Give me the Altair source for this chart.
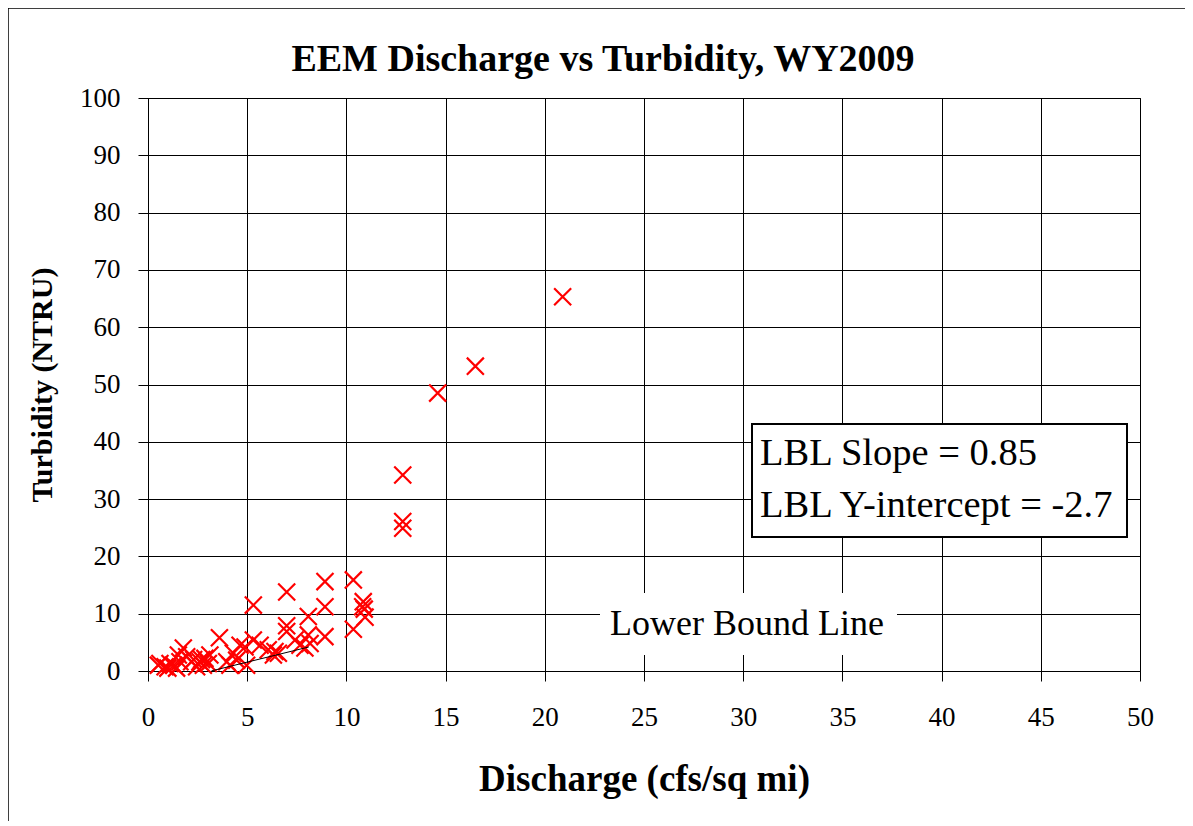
import altair as alt
import pandas as pd

# Data
discharge = [0.52, 0.60, 0.86, 1.00, 1.11, 1.30, 1.44, 1.53, 1.61, 1.78, 1.95, 2.20, 2.30,
             2.45, 2.62, 2.70, 2.79, 2.87, 3.04, 3.12, 3.60, 3.97, 4.13, 4.30, 4.47, 4.64,
             4.89, 4.97, 5.31, 5.31, 5.65, 6.06, 6.32, 6.40, 6.57, 6.99, 6.99, 6.99, 7.41,
             7.66, 7.91, 8.08, 8.08, 8.17, 8.92, 8.92, 8.92, 10.35, 10.35, 10.82, 10.85,
             10.90, 10.94, 12.84, 12.84, 12.84, 14.6, 16.5, 20.9]
turbidity = [1.0, 1.3, 0.75, 0.5, 1.3, 1.0, 0.5, 2.8, 1.6, 4.0, 2.5, 1.6, 2.0,
             0.75, 1.6, 2.0, 1.0, 2.2, 1.3, 2.8, 5.8, 1.6, 1.0, 3.1, 1.9, 4.5,
             4.2, 1.0, 11.5, 5.4, 4.5, 3.7, 2.8, 3.4, 3.1, 13.8, 7.9, 6.9, 5.4,
             4.5, 4.0, 9.5, 6.3, 4.8, 15.6, 11.2, 6.0, 15.9, 7.3, 11.2, 12.1,
             10.8, 9.4, 34.2, 26.1, 24.9, 48.5, 53.2, 65.3]

lbl_slope = 0.85
lbl_intercept = -2.7
lbl_x = [3.2, 8.1]

x_ticks = list(range(0, 51, 5))
y_ticks = list(range(0, 101, 10))

title_text = "EEM Discharge vs Turbidity, WY2009"
x_title = "Discharge (cfs/sq mi)"
y_title = "Turbidity (NTRU)"
box_lines = ["LBL Slope = 0.85", "LBL Y-intercept = -2.7"]
line_label = "Lower Bound Line"

FONT = "Liberation Serif"
W, H = 992, 573

pts = pd.DataFrame({"Discharge": discharge, "Turbidity": turbidity})
line_df = pd.DataFrame({"Discharge": lbl_x,
                        "Turbidity": [lbl_slope * v + lbl_intercept for v in lbl_x]})

xs = alt.Scale(domain=[0, 50], nice=False, zero=False)
ys = alt.Scale(domain=[0, 100], nice=False, zero=False)

x_axis = alt.Axis(values=x_ticks, title=x_title, grid=True, tickSize=10, labelFlush=False,
                  labelPadding=23, titlePadding=31, titleFontSize=37)
y_axis = alt.Axis(values=y_ticks, title=y_title, grid=True, tickSize=10, labelFlush=False,
                  labelPadding=18, titlePadding=22, titleFontSize=30)

scatter = alt.Chart(pts).mark_point(
    shape="M-1,-1L1,1M-1,1L1,-1", filled=False, stroke="#ff0000",
    strokeWidth=2.2, size=290, opacity=1
).encode(
    x=alt.X("Discharge:Q", scale=xs, axis=x_axis),
    y=alt.Y("Turbidity:Q", scale=ys, axis=y_axis),
)

lbl_line = alt.Chart(line_df).mark_line(color="black", strokeWidth=1).encode(
    x=alt.X("Discharge:Q", scale=xs),
    y=alt.Y("Turbidity:Q", scale=ys),
)

one = alt.Data(values=[{"k": 1}])

outer = alt.Chart(one).mark_rect(fill=None, stroke="black", strokeWidth=1.5).encode(
    x=alt.value(-140), x2=alt.value(1041), y=alt.value(-90), y2=alt.value(740)
)

title_mark = alt.Chart(one).mark_text(
    text=title_text, font=FONT, fontSize=38, fontWeight="bold", color="black",
    align="center", baseline="alphabetic"
).encode(x=alt.value(455), y=alt.value(-27))

label_bg = alt.Chart(one).mark_rect(fill="white", stroke=None).encode(
    x=alt.value(452), x2=alt.value(749), y=alt.value(495), y2=alt.value(557)
)
label_txt = alt.Chart(one).mark_text(
    text=line_label, font=FONT, fontSize=36, color="black", align="center", baseline="alphabetic"
).encode(x=alt.value(599), y=alt.value(537))

box = alt.Chart(one).mark_rect(fill="white", stroke="black", strokeWidth=2).encode(
    x=alt.value(604), x2=alt.value(979), y=alt.value(326), y2=alt.value(439)
)
box_t1 = alt.Chart(one).mark_text(
    text=box_lines[0], font=FONT, fontSize=38.5, color="black", align="left", baseline="alphabetic"
).encode(x=alt.value(612), y=alt.value(367))
box_t2 = alt.Chart(one).mark_text(
    text=box_lines[1], font=FONT, fontSize=38.5, color="black", align="left", baseline="alphabetic"
).encode(x=alt.value(612), y=alt.value(419))

chart = alt.layer(
    outer, title_mark, scatter, lbl_line, label_bg, label_txt, box, box_t1, box_t2
).properties(
    width=W, height=H,
    autosize=alt.AutoSizeParams(type="none"),
    padding={"left": 140, "top": 90, "right": 45, "bottom": 150},
    background="white",
).configure_view(
    stroke="black", strokeWidth=1
).configure_axis(
    labelFont=FONT, labelFontSize=27, labelColor="black",
    titleFont=FONT, titleFontWeight="bold", titleColor="black",
    domainColor="black", domainWidth=1, tickColor="black", tickWidth=1,
    gridColor="black", gridOpacity=1, gridWidth=1,
)

chart.save("out.html", embed_options={"renderer": "svg", "actions": False})
